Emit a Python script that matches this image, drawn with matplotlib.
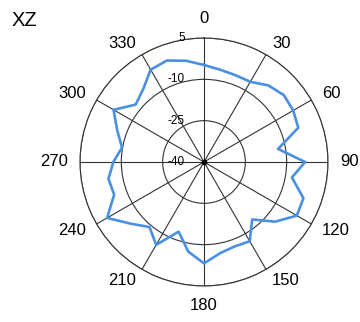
import numpy as np
import matplotlib
matplotlib.use('Agg')
import matplotlib.pyplot as plt
from matplotlib.transforms import offset_copy

plt.rcParams['font.family'] = ['Liberation Sans', 'DejaVu Sans']

# pattern in the XZ plane, every 10 degrees (dB)
angles_deg = list(range(0, 360, 10))
gain_db = [-4.8, -6.0, -6.5, -6.4, -3.7, -2.2, -2.6, -3.6, -12.7, -3.3,
           -7.6, -1.6, -1.1, -6.3, -12.8, -6.8, -7.4, -6.4, -3.2, -7.0,
           -13.1, -5.3, -9.2, -5.2, 0.6, -5.3, -4.8, -7.1, -9.8, -6.5,
           -2.1, -7.6, -5.6, -1.3, -0.8, -2.7]

r_ticks = [-25, -10, 5]
r_labels = ['5', '-10', '-25', '-40']
r_label_pos = [5, -10, -25, -40]
theta_ticks = list(range(0, 360, 30))

fig = plt.figure(figsize=(3.6, 3.22), dpi=100)
ax = fig.add_axes([0.2222, 0.1118, 0.6889, 0.7702], projection='polar')
ax.set_theta_zero_location('N')
ax.set_theta_direction(-1)
rmin, rmax = -40, 5
ax.set_ylim(rmin, rmax)

th = np.deg2rad(angles_deg + [angles_deg[0]])
rr = gain_db + [gain_db[0]]
ax.plot(th, rr, color='#4a90e2', lw=1.9, zorder=3)
ax.plot([0], [rmin], 'o', color='black', ms=3, zorder=4)

ax.set_yticks(r_ticks)
ax.set_yticklabels([])
ax.set_xticks(np.deg2rad(theta_ticks))
ax.set_xticklabels([])
ax.grid(True, color='#333333', lw=0.8)
ax.spines['polar'].set_color('#333333')
ax.spines['polar'].set_linewidth(0.8)

# angle labels, anchored just outside the rim
r_lab = rmin + 1.1 * (rmax - rmin)
for t in theta_ticks:
    s, c = np.sin(np.deg2rad(t)), np.cos(np.deg2rad(t))
    ha = 'left' if s > 0.01 else ('right' if s < -0.01 else 'center')
    va = 'bottom' if c > 0.99 else ('top' if c < -0.99 else 'center')
    ax.text(np.deg2rad(t), r_lab, str(t), ha=ha, va=va, fontsize=12, clip_on=False)

trans = offset_copy(ax.transData, fig=fig, x=-19, y=0, units='dots')
for lab, pos in zip(r_labels, r_label_pos):
    ax.text(0, pos, lab, transform=trans, ha='right', va='center', fontsize=8.5)

fig.text(0.033, 0.935, 'XZ', fontsize=14.5, ha='left', va='center')

fig.savefig('out.png', dpi=100)
